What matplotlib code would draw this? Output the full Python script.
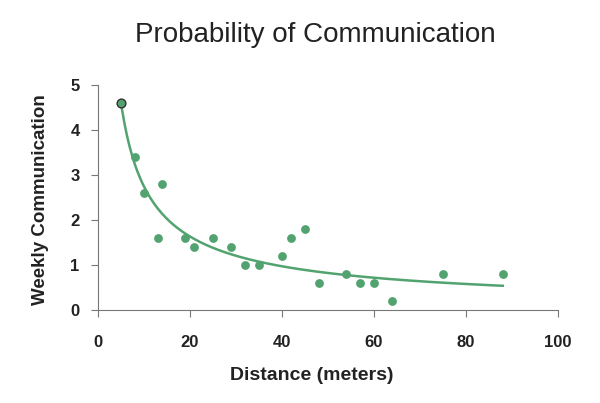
import numpy as np
import matplotlib
matplotlib.use("Agg")
import matplotlib.pyplot as plt

plt.rcParams['font.family'] = ['Liberation Sans', 'DejaVu Sans']

# distance (meters) vs weekly communication
distance = [5, 8, 10, 13, 14, 19, 21, 25, 29, 32, 35, 40, 42, 45, 48, 54, 57, 60, 64, 75, 88]
weekly = [4.6, 3.4, 2.6, 1.6, 2.8, 1.6, 1.4, 1.6, 1.4, 1.0, 1.0, 1.2, 1.6, 1.8, 0.6, 0.8, 0.6, 0.6, 0.2, 0.8, 0.8]

green = '#52a36f'

# power trendline fitted in log-log space
b, ln_a = np.polyfit(np.log(distance), np.log(weekly), 1)
xs = np.linspace(min(distance), max(distance), 300)
ys = np.exp(ln_a) * xs ** b

fig = plt.figure(figsize=(6, 4.03), dpi=100)
ax = fig.add_axes([0.163, 0.231, 0.767, 0.558])

ax.plot(xs, ys, color=green, lw=1.8, zorder=2)
ax.scatter(distance[1:], weekly[1:], s=40, color=green, zorder=3, linewidths=0)
ax.scatter(distance[:1], weekly[:1], s=40, color=green, edgecolors='#333333', linewidths=1, zorder=3)

ax.set_xlim(0, 100)
ax.set_ylim(0, 5)
ax.set_xticks([0, 20, 40, 60, 80, 100])
ax.set_yticks([0, 1, 2, 3, 4, 5])
for s in ['top', 'right']:
    ax.spines[s].set_visible(False)
for s in ['left', 'bottom']:
    ax.spines[s].set_color('#777777')
ax.tick_params(colors='#777777', labelcolor='#222222', direction='out', length=5, labelsize=12)
ax.tick_params(axis='x', pad=13)
ax.tick_params(axis='y', pad=8)
for lbl in ax.get_xticklabels() + ax.get_yticklabels():
    lbl.set_fontweight('bold')

ax.set_xlabel('Distance (meters)', fontsize=14, fontweight='bold', color='#222222')
ax.xaxis.set_label_coords(0.465, -0.255)
ax.set_ylabel('Weekly Communication', fontsize=13.5, fontweight='bold', color='#222222')
ax.yaxis.set_label_coords(-0.105, 0.489)
fig.text(0.525, 1 - 35 / 403, 'Probability of Communication', fontsize=20,
         ha='center', va='center', color='#222222')

fig.savefig('out.png', dpi=100)
